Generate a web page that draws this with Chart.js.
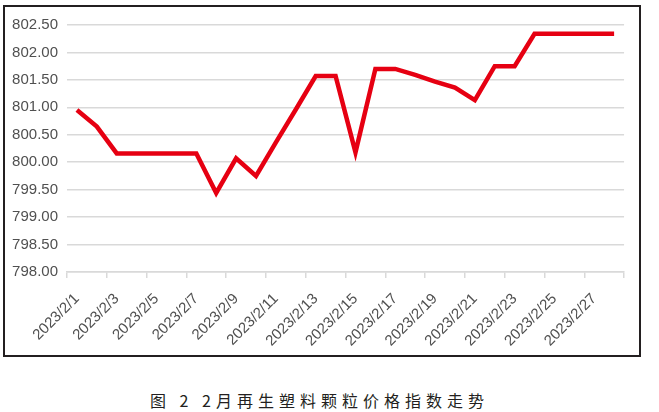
<!DOCTYPE html>
<html>
<head>
<meta charset="utf-8">
<script src="https://cdn.jsdelivr.net/npm/chart.js@4/dist/chart.umd.min.js"></script>
<style>
  body { margin: 0; background: #fff; width: 659px; height: 412px; position: relative; overflow: hidden; }
  #frame { position: absolute; left: 3px; top: 5px; width: 634px; height: 348px; border: 2px solid #231f20; }
  #frame canvas { display: block; }
  #caption {
    position: absolute; left: 150px; top: 390px; white-space: pre;
    font-family: "Noto Sans CJK SC", sans-serif; font-size: 16px; line-height: 20px;
    letter-spacing: 5px; color: #231f20;
  }
</style>
</head>
<body>
<div id="frame"><canvas id="priceChart" width="634" height="348"></canvas></div>
<div id="caption">图 2 2月再生塑料颗粒价格指数走势</div>
<script>
const days = [
  '2023/2/1', '2023/2/2', '2023/2/3', '2023/2/4', '2023/2/5', '2023/2/6', '2023/2/7',
  '2023/2/8', '2023/2/9', '2023/2/10', '2023/2/11', '2023/2/12', '2023/2/13', '2023/2/14',
  '2023/2/15', '2023/2/16', '2023/2/17', '2023/2/18', '2023/2/19', '2023/2/20', '2023/2/21',
  '2023/2/22', '2023/2/23', '2023/2/24', '2023/2/25', '2023/2/26', '2023/2/27', '2023/2/28'
];
const priceIndex = [
  800.95, 800.65, 800.16, 800.16, 800.16, 800.16, 800.16,
  799.44, 800.07, 799.75, 800.36, 800.96, 801.57, 801.57,
  800.18, 801.70, 801.70, 801.59, 801.47, 801.36, 801.13,
  801.75, 801.75, 802.34, 802.34, 802.34, 802.34, 802.34
];
const yMin = 798;
const yMax = 802.5;
const yStep = 0.5;

const gridGray = '#d9d9d9';
const labelGray = '#505050';

const priceChart = new Chart(document.querySelector('#priceChart'), {
  type: 'line',
  data: {
    labels: days,
    datasets: [{
      data: priceIndex,
      borderColor: '#e60012',
      borderWidth: 4.5,
      pointRadius: 0,
      tension: 0
    }]
  },
  options: {
    responsive: false,
    animation: false,
    layout: {
      padding: { left: 0, right: 9, top: 15, bottom: 0 }
    },
    plugins: {
      legend: { display: false },
      tooltip: { enabled: false }
    },
    scales: {
      x: {
        offset: true,
        grid: {
          offset: true,
          drawOnChartArea: false,
          tickLength: 6,
          lineWidth: 1.5,
          color: c => (c.index === undefined || c.index % 2 === 0) ? gridGray : 'rgba(0,0,0,0)'
        },
        border: { color: gridGray, width: 1.5 },
        ticks: {
          autoSkip: false,
          maxRotation: 45,
          minRotation: 45,
          padding: 12,
          color: labelGray,
          font: { family: 'Liberation Sans', size: 15 },
          callback: (v, i) => i % 2 === 0 ? days[i] : ''
        },
        afterFit: scale => { scale.height = 83; }
      },
      y: {
        min: yMin,
        max: yMax,
        grid: { color: gridGray, lineWidth: 1.5, drawTicks: false },
        border: { display: false },
        ticks: {
          stepSize: yStep,
          padding: 9,
          color: labelGray,
          font: { family: 'Liberation Sans', size: 15 },
          callback: v => Number(v).toFixed(2)
        },
        afterFit: scale => { scale.width = 62; }
      }
    }
  }
});
</script>
</body>
</html>
